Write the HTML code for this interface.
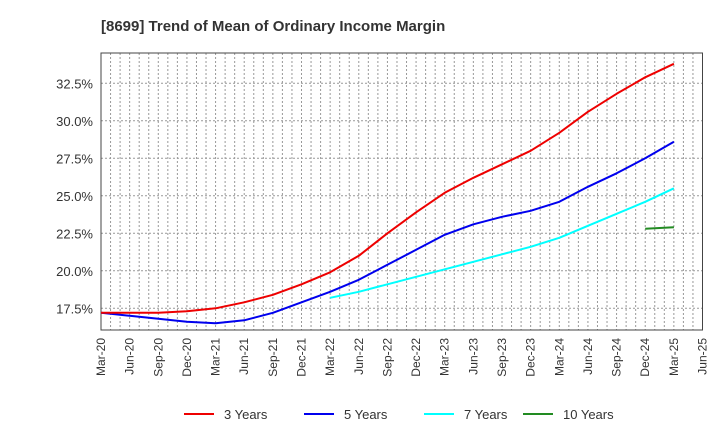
<!DOCTYPE html>
<html><head><meta charset="utf-8"><style>
body{margin:0;background:#fff;font-family:"Liberation Sans",sans-serif}
</style></head><body>
<svg id="chart" width="720" height="440" xmlns="http://www.w3.org/2000/svg">
<text x="101" y="31" font-size="15" font-weight="bold" fill="#333">[8699]  Trend of Mean of Ordinary Income Margin</text>
<g id="grid"></g><g id="axes"></g><g id="series"></g><g id="legend"></g>
</svg>
<script>
const xLabels=["Mar-20","Jun-20","Sep-20","Dec-20","Mar-21","Jun-21","Sep-21","Dec-21","Mar-22","Jun-22","Sep-22","Dec-22","Mar-23","Jun-23","Sep-23","Dec-23","Mar-24","Jun-24","Sep-24","Dec-24","Mar-25","Jun-25"];
const yTicks=[17.5,20.0,22.5,25.0,27.5,30.0,32.5];
const s3=[17.2,17.2,17.2,17.3,17.5,17.9,18.4,19.1,19.9,21.0,22.5,23.9,25.2,26.2,27.1,28.0,29.2,30.6,31.8,32.9,33.8];
const s5=[17.2,17.0,16.8,16.6,16.5,16.7,17.2,17.9,18.6,19.4,20.4,21.4,22.4,23.1,23.6,24.0,24.6,25.6,26.5,27.5,28.6];
const s7=[null,null,null,null,null,null,null,null,18.2,18.6,19.1,19.6,20.1,20.6,21.1,21.6,22.2,23.0,23.8,24.6,25.5];
const s10=[null,null,null,null,null,null,null,null,null,null,null,null,null,null,null,null,null,null,null,22.8,22.9];
const L=101,R=702.5,T=53,B=330;
const X=i=>L+(R-L)*i/21;
const Y=v=>308.3-(v-17.5)*15;
const NS="http://www.w3.org/2000/svg";
function mk(t,a,p){const e=document.createElementNS(NS,t);for(const k in a)e.setAttribute(k,a[k]);p.appendChild(e);return e;}
const grid=document.getElementById('grid'),axes=document.getElementById('axes'),ser=document.getElementById('series'),leg=document.getElementById('legend');
for(let m=1;m<63;m++){const x=L+(R-L)*m/63;const l=mk('line',{x1:x,x2:x,y1:T,y2:B,stroke:'#999','stroke-width':1,'stroke-dasharray':'2,2'},grid);

}
yTicks.forEach(v=>{const l=mk('line',{x1:L,x2:R,y1:Y(v),y2:Y(v),stroke:'#999','stroke-width':1,'stroke-dasharray':'2,2'},grid);


const t=mk('text',{x:L-8,y:Y(v)+5,'text-anchor':'end','font-size':13,fill:'#333'},axes);t.textContent=v.toFixed(1)+'%';

});
const fr=mk('rect',{x:L,y:T,width:R-L,height:B-T,fill:'none',stroke:'#444','stroke-width':1},axes);


xLabels.forEach((s,i)=>{const x=X(i);const t=mk('text',{transform:`translate(${x+4},${B+8}) rotate(-90)`,'text-anchor':'end','font-size':12,fill:'#333'},axes);t.textContent=s;

});
function line(d,c,name){let p='';d.forEach((v,i)=>{if(v==null)return;p+=(p?'L':'M')+X(i).toFixed(1)+','+Y(v).toFixed(1);});
const e=mk('path',{d:p,fill:'none',stroke:c,'stroke-width':2,'stroke-linejoin':'round'},ser);

}
line(s7,'#00ffff','line-7-years');line(s5,'#0000ee','line-5-years');line(s3,'#ee0000','line-3-years');line(s10,'#228b22','line-10-years');
const items=[["3 Years","#ee0000",184],["5 Years","#0000ee",304],["7 Years","#00ffff",424],["10 Years","#228b22",523]];
items.forEach(([n,c,x])=>{const g=mk('g',{},leg);


mk('line',{x1:x,x2:x+30,y1:414,y2:414,stroke:c,'stroke-width':2},g);
const t=mk('text',{x:x+40,y:419,'font-size':13,fill:'#333'},g);t.textContent=n;});
</script>
</body></html>
